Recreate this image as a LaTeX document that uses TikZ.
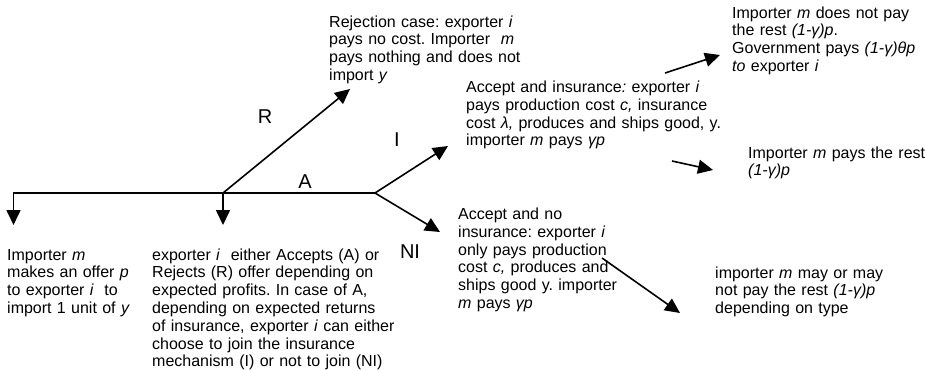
\documentclass[tikz,border=0pt]{standalone}
\usepackage{fontspec}
\setmainfont{Liberation Sans}
\usetikzlibrary{arrows.meta}
\begin{document}
\begin{tikzpicture}[x=1pt,y=-1pt,
  conn/.style={line width=1.6pt},
  arr/.style={conn,-{Triangle[length=15pt,width=14pt]}},
  txt/.style={anchor=base west,inner sep=0pt,align=left,text width=300pt,font=\fontsize{16pt}{17.8pt}\selectfont\frenchspacing},
  lbl/.style={inner sep=0pt,font=\fontsize{20pt}{22pt}\selectfont}]
\useasboundingbox (0,0) rectangle (925,370);
% coordinates
\coordinate (L) at (13.5,193);
\coordinate (B) at (223,193);
\coordinate (S) at (375,193);
\coordinate (Ldn) at (13.5,225);
\coordinate (Bdn) at (223,225);
\coordinate (Rtip) at (350,89);
\coordinate (Itip) at (448,146);
\coordinate (NItip) at (440,232);
\coordinate (g0) at (665,73);
\coordinate (g1) at (720,55);
\coordinate (h0) at (672,161);
\coordinate (h1) at (713,170);
\coordinate (k0) at (602,258);
\coordinate (k1) at (680,313);
% connectors
\draw[arr] (S) -- (L) -- (Ldn);
\draw[arr] (B) -- (Bdn);
\draw[arr] (B) -- (Rtip);
\draw[arr] (S) -- (Itip);
\draw[arr] (S) -- (NItip);
\draw[arr] (g0) -- (g1);
\draw[arr] (h0) -- (h1);
\draw[arr] (k0) -- (k1);
% labels
\node[lbl] (lR) at (265,117) {R};
\node[lbl] (lI) at (397,140) {I};
\node[lbl] (lA) at (305,182) {A};
\node[lbl] (lNI) at (410,252) {NI};
% texts
\node[txt] (offer) at (7,260) {Importer \textit{m}\\makes an offer \textit{p}\\to exporter \textit{i}\ \ to\\import 1 unit of \textit{y}};
\node[txt] (choice) at (152,260) {exporter \textit{i}\ \ either Accepts (A) or\\Rejects (R) offer depending on\\expected profits. In case of A,\\depending on expected returns\\of insurance, exporter \textit{i} can either\\choose to join the insurance\\mechanism (I) or not to join (NI)};
\node[txt] (reject) at (329,27) {Rejection case: exporter \textit{i}\\pays no cost. Importer\ \ \textit{m}\\pays nothing and does not\\import \textit{y}};
\node[txt] (ins) at (466,92.5) {Accept and insurance\textit{:} exporter \textit{i}\\pays production cost \textit{c,} insurance\\cost \textit{λ,} produces and ships good, y.\\importer \textit{m} pays \textit{γp}};
\node[txt] (gov) at (732,18) {Importer \textit{m} does not pay\\the rest \textit{(1-γ)p}.\\Government pays \textit{(1-γ)θp}\\\textit{to} exporter \textit{i}};
\node[txt] (rest) at (748,158) {Importer \textit{m} pays the rest\\\textit{(1-γ)p}};
\node[txt] (noins) at (458,219.5) {Accept and no\\insurance: exporter \textit{i}\\only pays production\\cost \textit{c,} produces and\\ships good y. importer\\\textit{m} pays \textit{γp}};
\node[txt] (type) at (715,278) {importer \textit{m} may or may\\not pay the rest \textit{(1-γ)p}\\depending on type};
\end{tikzpicture}
\end{document}
